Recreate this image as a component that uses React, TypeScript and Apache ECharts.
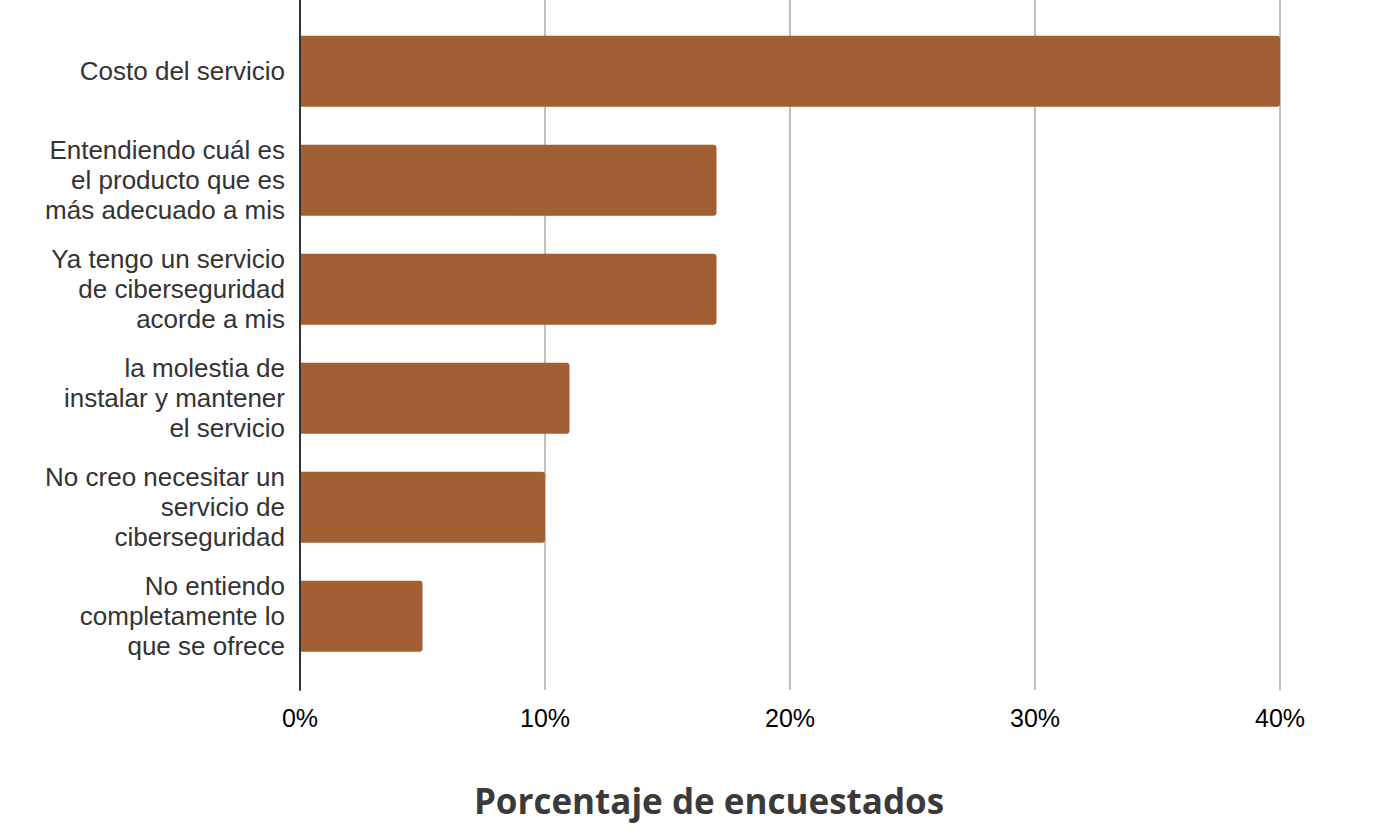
import React, { useEffect, useRef } from "react";
import * as echarts from "echarts";

const categories: string[] = [
  "Costo del servicio",
  "Entendiendo cuál es\nel producto que es\nmás adecuado a mis",
  "Ya tengo un servicio\nde ciberseguridad\nacorde a mis",
  "la molestia de\ninstalar y mantener\nel servicio",
  "No creo necesitar un\nservicio de\nciberseguridad",
  "No entiendo\ncompletamente lo\nque se ofrece",
];
const values: number[] = [40, 17, 17, 11, 10, 5];
const xMin = 0;
const xMax = 40;
const xStep = 10;
const axisTitle = "Porcentaje de encuestados";

const labelFont = "'Liberation Sans', Arial, Helvetica, sans-serif";

export default function App() {
  const ref = useRef<HTMLDivElement>(null);
  useEffect(() => {
    if (!ref.current) return;
    const chart = echarts.init(ref.current, undefined, { renderer: "svg" });
    chart.setOption({
      animation: false,
      backgroundColor: "#ffffff",
      title: {
        text: axisTitle,
        left: 704,
        top: 778,
        textAlign: "center",
        textStyle: {
          fontFamily: "'Open Sans', sans-serif",
          fontWeight: "bold",
          fontSize: 35,
          color: "#3a3a3a",
        },
      },
      grid: [
        { left: 300, right: 103, top: 16.8, bottom: 164.2, containLabel: false },
        { left: 300, right: 103, top: 0, bottom: 145, containLabel: false },
      ],
      xAxis: [
        {
          gridIndex: 0,
          type: "value",
          min: xMin,
          max: xMax,
          interval: xStep,
          show: false,
        },
        {
          gridIndex: 1,
          type: "value",
          min: xMin,
          max: xMax,
          interval: xStep,
          axisLine: { show: false },
          axisTick: { show: false },
          splitLine: { show: true, lineStyle: { color: "#c0c0c0", width: 2 } },
          axisLabel: {
            formatter: "{value}%",
            fontFamily: labelFont,
            fontSize: 25,
            color: "#000000",
            margin: 15,
          },
        },
      ],
      yAxis: [
        {
          gridIndex: 0,
          type: "category",
          data: categories,
          inverse: true,
          axisLine: { show: false },
          axisTick: { show: false },
          splitLine: { show: false },
          axisLabel: {
            fontFamily: labelFont,
            fontSize: 26,
            lineHeight: 30,
            color: "#333333",
            margin: 15,
            align: "right",
          },
        },
        {
          gridIndex: 1,
          type: "value",
          min: 0,
          max: 1,
          z: 5,
          axisLine: { show: true, lineStyle: { color: "#333333", width: 2 } },
          axisTick: { show: false },
          axisLabel: { show: false },
          splitLine: { show: false },
        },
      ],
      series: [
        {
          type: "bar",
          xAxisIndex: 0,
          yAxisIndex: 0,
          data: values,
          barWidth: 71,
          itemStyle: { color: "#a15f33", borderRadius: [0, 3, 3, 0] },
        },
      ],
    });
    return () => chart.dispose();
  }, []);
  return (
    <div
      ref={ref}
      style={{ position: "absolute", left: 0, top: 0, width: 1383, height: 835 }}
    />
  );
}
